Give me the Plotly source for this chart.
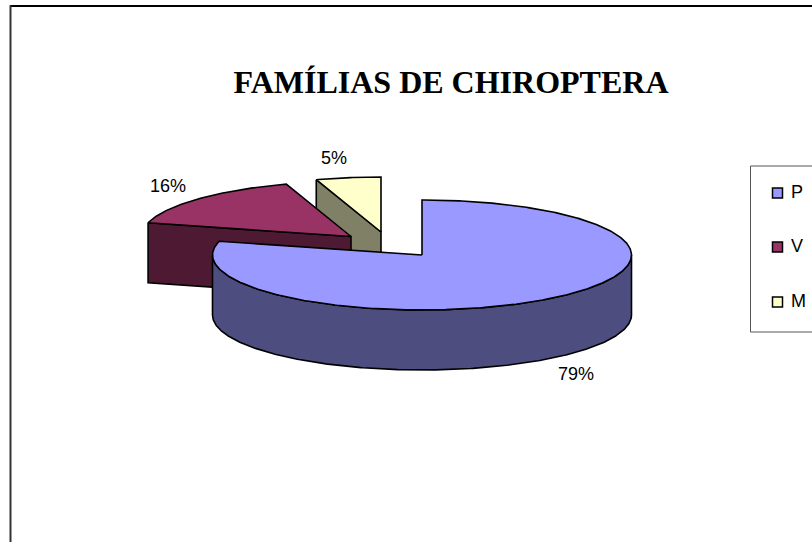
import numpy as np
import plotly.graph_objects as go

# Data
categories = ["P", "V", "M"]
percent_values = [79, 16, 5]
chart_title = "FAMÍLIAS DE CHIROPTERA"

# Styling and layout of the hand-built 3D pie (pixel-based axes)
top_colors = ["#9999ff", "#993366", "#ffffcc"]
side_colors = ["#4d4d80", "#4d1933", "#808066"]
apexes = [(422.0, 255.0), (351.0, 236.5), (381.0, 232.0)]  # exploded slice centres
RX, RY, DEPTH = 209.5, 55.0, 60.0
label_pos = [(576, 374), (168, 186), (334, 158)]
legend_x, legend_y = 777.5, [193, 247, 302]

fractions = np.array(percent_values, dtype=float) / sum(percent_values)
ends = np.cumsum(fractions) * 2 * np.pi
starts = ends - fractions * 2 * np.pi


def arc(i, a0, a1):
    cx, cy = apexes[i]
    t = np.linspace(a0, a1, max(int(abs(a1 - a0) / 0.01), 2))
    return cx + RX * np.sin(t), cy - RY * np.cos(t)


def poly(x, y, color, name):
    return go.Scatter(x=list(x) + [x[0]], y=list(y) + [y[0]], mode="lines", fill="toself",
                      fillcolor=color, line=dict(color="black", width=1.6), name=name,
                      hoverinfo="skip", showlegend=False)


fig = go.Figure()
# paint back to front: M, V, P
for i in [2, 1, 0]:
    cx, cy = apexes[i]
    ax, ay = arc(i, starts[i], ends[i])
    if i == 0:
        # curved outer wall of the big slice
        wx, wy = arc(i, np.pi / 2, 3 * np.pi / 2)
        fig.add_trace(poly(np.r_[wx, wx[::-1]], np.r_[wy, wy[::-1] + DEPTH], side_colors[i], categories[i] + " wall"))
    else:
        # flat cut wall along the slice's leading radius
        fig.add_trace(poly([ax[0], cx, cx, ax[0]], [ay[0], cy, cy + DEPTH, ay[0] + DEPTH], side_colors[i], categories[i] + " face"))
    fig.add_trace(poly(np.r_[cx, ax], np.r_[cy, ay], top_colors[i], categories[i]))

# legend markers and names
for name, color, ly in zip(categories, top_colors, legend_y):
    fig.add_trace(go.Scatter(x=[legend_x], y=[ly], mode="markers", hoverinfo="skip", showlegend=False, name=name,
                             marker=dict(symbol="square", size=10, color=color, line=dict(color="black", width=1.5))))
    fig.add_annotation(x=788.5, y=ly - 1, text=name, showarrow=False, xanchor="left", yanchor="middle",
                       font=dict(family="Liberation Sans", size=18, color="black"))

# data labels
for v, (lx, ly) in zip(percent_values, label_pos):
    fig.add_annotation(x=lx, y=ly, text=f"{v}%", showarrow=False, xanchor="center", yanchor="middle",
                       font=dict(family="Liberation Sans", size=18, color="black"))

fig.update_layout(
    width=812, height=542, margin=dict(l=0, r=0, t=0, b=0),
    paper_bgcolor="white", plot_bgcolor="white", showlegend=False,
    title=dict(text=f"<b>{chart_title}</b>", x=451 / 812, y=1 - 82 / 542, xanchor="center", yanchor="middle",
               font=dict(family="Liberation Serif", size=32, color="black")),
    xaxis=dict(range=[0, 812], visible=False, fixedrange=True),
    yaxis=dict(range=[542, 0], visible=False, fixedrange=True),
    shapes=[
        dict(type="line", xref="x", yref="y", x0=10, x1=812, y0=6, y1=6, line=dict(color="black", width=2), layer="below"),
        dict(type="line", xref="x", yref="y", x0=10.5, x1=10.5, y0=5, y1=542, line=dict(color="#333333", width=2), layer="below"),
        dict(type="rect", xref="x", yref="y", x0=750.5, x1=830, y0=166, y1=332, line=dict(color="#555555", width=1), layer="below"),
    ],
)
fig.write_html("out.html", config=dict(displayModeBar=False), post_script="document.body.style.margin='0';")
